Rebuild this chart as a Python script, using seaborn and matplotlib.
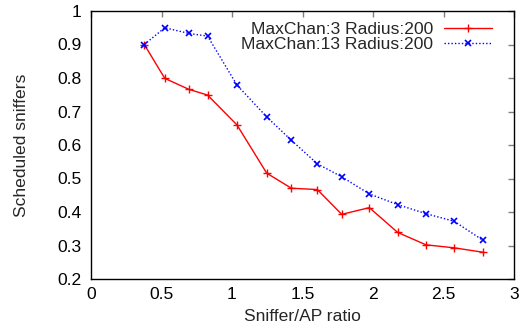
import matplotlib
matplotlib.use("Agg")
import matplotlib.pyplot as plt
import seaborn as sns
import pandas as pd

ratio = [0.378, 0.523, 0.695, 0.827, 1.035, 1.246, 1.421, 1.605, 1.778, 1.974, 2.175, 2.376, 2.577, 2.778]
chan3 = [0.900, 0.799, 0.766, 0.749, 0.660, 0.516, 0.471, 0.467, 0.393, 0.413, 0.339, 0.302, 0.293, 0.280]
chan13 = [0.900, 0.950, 0.933, 0.925, 0.779, 0.684, 0.614, 0.544, 0.505, 0.454, 0.422, 0.395, 0.372, 0.316]
labels = ["MaxChan:3 Radius:200", "MaxChan:13 Radius:200"]
xticks = [0, 0.5, 1, 1.5, 2, 2.5, 3]
yticks = [0.2, 0.3, 0.4, 0.5, 0.6, 0.7, 0.8, 0.9, 1]

sns.set_theme(style="white")
plt.rcParams['font.family'] = ['Liberation Sans', 'DejaVu Sans']

FS = 12.6

df3 = pd.DataFrame({"x": ratio, "y": chan3})
df13 = pd.DataFrame({"x": ratio, "y": chan13})

fig = plt.figure(figsize=(5.21, 3.35), dpi=100)
ax = fig.add_axes([91/521, 56/335, 423/521, 268/335])

sns.lineplot(data=df3, x="x", y="y", ax=ax, color="#ff0000", linewidth=1.0,
             marker="+", markersize=6, markeredgewidth=1.0,
             markeredgecolor="#ff0000", label=labels[0])
sns.lineplot(data=df13, x="x", y="y", ax=ax, color="#0000ff", linewidth=1.0,
             linestyle=(0, (1, 1.5)), marker="x", markersize=5, markeredgewidth=1.2,
             markeredgecolor="#0000ff", label=labels[1])

ax.set_xlim(0, 3)
ax.set_ylim(0.2, 1)
ax.set_xticks(xticks)
ax.set_xticklabels([f"{t:g}" for t in xticks])
ax.set_yticks(yticks)
ax.set_yticklabels([f"{t:g}" for t in yticks])
ax.set_xlabel("Sniffer/AP ratio", fontsize=FS, labelpad=5)
ax.set_ylabel("Scheduled sniffers", fontsize=FS, labelpad=20)
ax.tick_params(axis="both", which="both", direction="in", length=4, width=1,
               color="#808080", labelsize=FS, top=True, right=True, pad=7,
               labelcolor="black")
ax.tick_params(axis="x", pad=6)
for s in ax.spines.values():
    s.set_color("black")
    s.set_linewidth(1.0)

leg = ax.legend(loc="upper right", bbox_to_anchor=(0.948, 0.961), frameon=False,
                markerfirst=False, fontsize=FS, handlelength=2.75,
                handletextpad=0.6, labelspacing=0.0, borderaxespad=0,
                borderpad=0)

fig.savefig("out.png", dpi=100)
